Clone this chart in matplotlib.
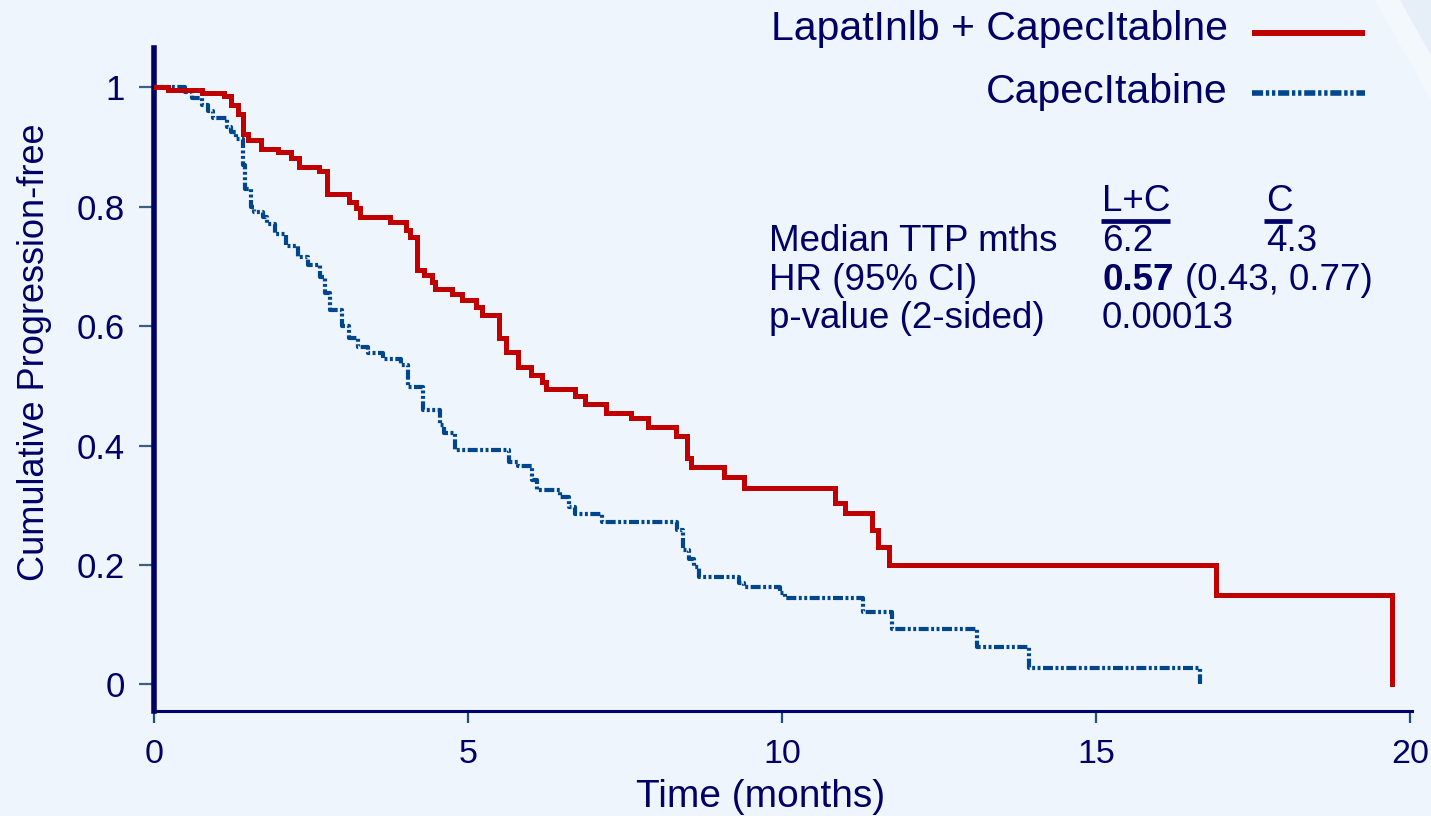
import matplotlib
matplotlib.use("Agg")
import matplotlib.pyplot as plt
from matplotlib.lines import Line2D
from matplotlib.patches import Polygon

# Kaplan-Meier steps: time of each drop (months) and the new level
lc_time = [0, 0.22, 0.77, 1.12, 1.22, 1.33, 1.42, 1.50, 1.70, 1.97, 2.18, 2.31, 2.63,
           2.76, 3.10, 3.21, 3.28, 3.75, 4.02, 4.07, 4.18, 4.30, 4.42, 4.48, 4.75, 4.90,
           5.12, 5.22, 5.50, 5.60, 5.79, 6.00, 6.17, 6.24, 6.70, 6.86, 7.20, 7.60, 7.87,
           8.31, 8.49, 8.55, 9.07, 9.40, 10.84, 11.00, 11.43, 11.52, 11.70, 16.91, 19.71]
lc_surv = [1.0, 0.995, 0.990, 0.985, 0.971, 0.956, 0.921, 0.911, 0.896, 0.891, 0.881, 0.866, 0.860,
           0.822, 0.808, 0.797, 0.783, 0.774, 0.761, 0.750, 0.694, 0.685, 0.674, 0.663, 0.653, 0.643,
           0.632, 0.618, 0.580, 0.557, 0.532, 0.518, 0.507, 0.494, 0.483, 0.469, 0.455, 0.446, 0.431,
           0.416, 0.380, 0.364, 0.348, 0.329, 0.304, 0.287, 0.259, 0.230, 0.200, 0.150, 0.0]

c_time = [0, 0.50, 0.60, 0.76, 0.86, 0.94, 1.16, 1.23, 1.30, 1.42, 1.45, 1.54, 1.60, 1.73,
          1.80, 1.93, 2.10, 2.30, 2.45, 2.64, 2.72, 2.80, 3.00, 3.10, 3.25, 3.40, 3.65, 3.93,
          4.05, 4.28, 4.55, 4.62, 4.80, 5.66, 5.80, 6.02, 6.10, 6.47, 6.60, 6.70, 7.13, 8.33,
          8.42, 8.52, 8.60, 8.68, 9.31, 9.40, 9.96, 10.04, 11.29, 11.75, 13.10, 13.93, 16.66]
c_surv = [1.0, 0.992, 0.982, 0.970, 0.960, 0.948, 0.934, 0.925, 0.913, 0.870, 0.830, 0.800, 0.791, 0.783,
          0.771, 0.754, 0.734, 0.716, 0.702, 0.682, 0.655, 0.627, 0.600, 0.580, 0.565, 0.555, 0.545, 0.535,
          0.498, 0.459, 0.434, 0.421, 0.393, 0.373, 0.366, 0.342, 0.326, 0.314, 0.298, 0.285, 0.272, 0.259,
          0.225, 0.210, 0.197, 0.180, 0.170, 0.164, 0.153, 0.145, 0.122, 0.093, 0.062, 0.028, 0.0]

x_ticks = [0, 5, 10, 15, 20]
y_ticks = [0, 0.2, 0.4, 0.6, 0.8, 1]
y_ticklabels = ["0", "0.2", "0.4", "0.6", "0.8", "1"]

series_labels = ["LapatInlb + CapecItablne", "CapecItabine"]
stat_rows = ["Median TTP mths", "HR (95% CI)", "p-value (2-sided)"]
col_heads = ["L+C", "C"]
median_ttp = ["6.2", "4.3"]
hr_value = "0.57"
hr_ci = "(0.43, 0.77)"
p_value = "0.00013"

NAVY = "#000066"
RED = "#c00000"
BLUE = "#00468c"
BG = "#eef5fc"
W, H = 1431, 816

plt.rcParams["font.family"] = ["Liberation Sans", "DejaVu Sans"]


def fx(px):
    return px / W


def fy(py):
    return 1 - py / H


fig = plt.figure(figsize=(W / 100, H / 100), dpi=100, facecolor=BG)

# faint diagonal sheen in the top right corner, as in the slide background
fig.add_artist(Polygon([(fx(1375), 1), (fx(1400), 1), (fx(W), fy(55)), (fx(W), fy(100))],
                       closed=True, transform=fig.transFigure, fc="#f3f8fd", ec="none"))
fig.add_artist(Polygon([(fx(1400), 1), (1, 1), (1, fy(55))],
                       closed=True, transform=fig.transFigure, fc="#e6eff8", ec="none"))

ax = fig.add_axes([fx(154), fy(711), fx(1412) - fx(154), fy(48) - fy(711)])
ax.set_facecolor("none")

ax.step(lc_time, lc_surv, where="post", color=RED, lw=3.6, solid_joinstyle="miter", zorder=3)
ax.step(c_time, c_surv, where="post", color=BLUE, lw=3.0,
        linestyle=(0, (2.4, 0.6, 0.7, 0.6, 0.7, 0.6)), zorder=2)

ax.set_xlim(0, 20.03)
ax.set_ylim(-0.0444, 1.0657)

for side in ("top", "right"):
    ax.spines[side].set_visible(False)
ax.spines["left"].set_linewidth(4.0)
ax.spines["bottom"].set_linewidth(2.2)
ax.spines["left"].set_color(NAVY)
ax.spines["bottom"].set_color(NAVY)

ax.set_xticks(x_ticks)
ax.set_yticks(y_ticks, y_ticklabels)
ax.tick_params(axis="x", direction="out", length=8.5, width=1.6, color="#1f4f80",
               labelsize=24.5, labelcolor=NAVY, pad=12)
ax.tick_params(axis="y", direction="out", length=11, width=1.6, color="#3d5f86",
               labelsize=25, labelcolor=NAVY, pad=10)

ax.set_xlabel("Time (months)", fontsize=28, color=NAVY, va="center")
ax.xaxis.set_label_coords(0.4825, -0.13)
ax.set_ylabel("Cumulative Progression-free", fontsize=26, color=NAVY, va="center")
ax.yaxis.set_label_coords(-0.0946, 0.541)

# legend: text right-aligned, sample line to its right
legend_rows = [(series_labels[0], 40, 33, dict(color=RED, lw=4.3, solid_capstyle="butt")),
               (series_labels[1], 103, 93, dict(color=BLUE, lw=4.0,
                                                linestyle=(0, (2.0, 0.5, 0.6, 0.5, 0.6, 0.5))))]
for text, base, ly, style in legend_rows:
    fig.text(fx(1228), fy(base), text, ha="right", va="baseline", fontsize=29.5, color=NAVY)
    fig.add_artist(Line2D([fx(1252), fx(1365)], [fy(ly), fy(ly)], transform=fig.transFigure, **style))

# statistics block
stat_size = 26.5
fig.text(fx(1102), fy(211), col_heads[0], fontsize=stat_size, color=NAVY, va="baseline")
fig.text(fx(1266), fy(211), col_heads[1], fontsize=stat_size, color=NAVY, va="baseline")
for x0, x1 in ((1101, 1170), (1264, 1292)):
    fig.add_artist(Line2D([fx(x0), fx(x1)], [fy(220.5), fy(220.5)], transform=fig.transFigure,
                          color=NAVY, lw=3.4, solid_capstyle="butt"))

for label, base in zip(stat_rows, (251, 290, 328)):
    fig.text(fx(769), fy(base), label, fontsize=stat_size, color=NAVY, va="baseline")
fig.text(fx(1102), fy(251), median_ttp[0], fontsize=stat_size, color=NAVY, va="baseline")
fig.text(fx(1266), fy(251), median_ttp[1], fontsize=stat_size, color=NAVY, va="baseline")
fig.text(fx(1102), fy(290), hr_value, fontsize=stat_size, color=NAVY, va="baseline", fontweight="bold")
fig.text(fx(1185), fy(290), hr_ci, fontsize=stat_size, color=NAVY, va="baseline")
fig.text(fx(1102), fy(328), p_value, fontsize=stat_size, color=NAVY, va="baseline")

fig.savefig("out.png", dpi=100, facecolor=BG)
